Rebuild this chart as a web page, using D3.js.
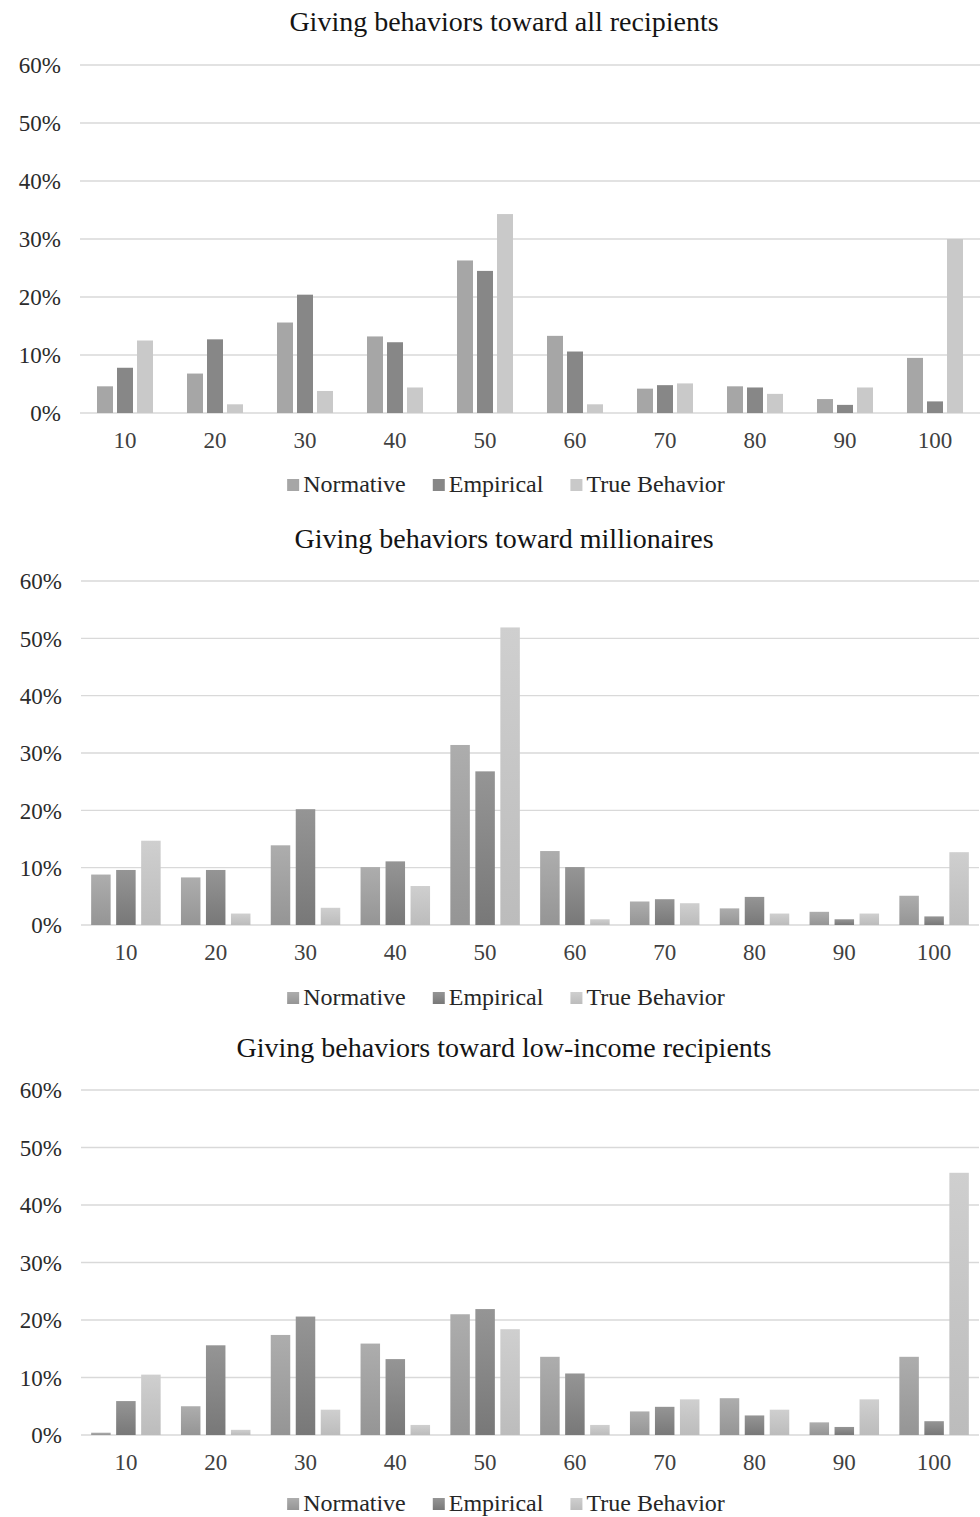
<!DOCTYPE html>
<html>
<head>
<meta charset="utf-8">
<script src="https://cdn.jsdelivr.net/npm/d3@7"></script>
<style>
  html, body { margin: 0; padding: 0; background: #fff; }
  svg { display: block; }
  text { font-family: "Liberation Serif", "Times New Roman", serif; }
</style>
</head>
<body>
<svg id="chart" width="980" height="1517"></svg>
<script>
// ---------- data ----------
const categories = ["10", "20", "30", "40", "50", "60", "70", "80", "90", "100"];
const seriesNames = ["Normative", "Empirical", "True Behavior"];
const yTicks = [0, 10, 20, 30, 40, 50, 60];

const titles = [
  "Giving behaviors toward all recipients",
  "Giving behaviors toward millionaires",
  "Giving behaviors toward low-income recipients"
];

const allNormative = [4.6, 6.8, 15.6, 13.2, 26.3, 13.3, 4.2, 4.6, 2.4, 9.5];
const allEmpirical = [7.8, 12.7, 20.4, 12.2, 24.5, 10.6, 4.8, 4.4, 1.4, 2.0];
const allTrue      = [12.5, 1.5, 3.8, 4.4, 34.3, 1.5, 5.1, 3.3, 4.4, 30.0];

const milNormative = [8.8, 8.3, 13.9, 10.1, 31.4, 12.9, 4.1, 2.9, 2.3, 5.1];
const milEmpirical = [9.6, 9.6, 20.2, 11.1, 26.8, 10.1, 4.5, 4.9, 1.0, 1.5];
const milTrue      = [14.7, 2.0, 3.0, 6.8, 51.9, 1.0, 3.8, 2.0, 2.0, 12.7];

const lowNormative = [0.4, 5.0, 17.4, 15.9, 21.0, 13.6, 4.1, 6.4, 2.2, 13.6];
const lowEmpirical = [5.9, 15.6, 20.6, 13.2, 21.9, 10.7, 4.9, 3.4, 1.4, 2.4];
const lowTrue      = [10.5, 0.9, 4.4, 1.75, 18.4, 1.75, 6.2, 4.4, 6.2, 45.6];

const panelData = [
  [allNormative, allEmpirical, allTrue],
  [milNormative, milEmpirical, milTrue],
  [lowNormative, lowEmpirical, lowTrue]
];

// ---------- layout / style ----------
const layout = [
  { titleY: 31,   y0: 413,  y60: 65,   xL: 80, xR: 980, xLabelY: 448,  legendY: 492,  groupW: 56,   pad: 0.2,  gradient: false },
  { titleY: 548,  y0: 925,  y60: 581,  xL: 81, xR: 979, xLabelY: 960,  legendY: 1005, groupW: 69.5, pad: 0.22, gradient: true },
  { titleY: 1057, y0: 1435, y60: 1090, xL: 81, xR: 979, xLabelY: 1470, legendY: 1511, groupW: 69.5, pad: 0.22, gradient: true }
];
const flatColors = ["#a6a6a6", "#878787", "#c9c9c9"];
const gradTop    = ["#adadad", "#959595", "#cfcfcf"];
const gradBottom = ["#959595", "#787878", "#bcbcbc"];

const svg = d3.select("#chart");
svg.append("rect").attr("width", 980).attr("height", 1517).attr("fill", "#fff");

const defs = svg.append("defs");
seriesNames.forEach((s, i) => {
  const g = defs.append("linearGradient")
    .attr("id", "grad" + i).attr("x1", 0).attr("y1", 0).attr("x2", 0).attr("y2", 1);
  g.append("stop").attr("offset", "0%").attr("stop-color", gradTop[i]);
  g.append("stop").attr("offset", "100%").attr("stop-color", gradBottom[i]);
});

panelData.forEach((series, p) => {
  const L = layout[p];
  const g = svg.append("g");

  const y = d3.scaleLinear().domain([0, 60]).range([L.y0, L.y60]);
  const x0 = d3.scaleBand().domain(categories).range([L.xL, L.xR]).padding(0);
  const x1 = d3.scaleBand().domain(d3.range(seriesNames.length))
    .range([-L.groupW / 2, L.groupW / 2]).paddingInner(L.pad).paddingOuter(0);

  // title
  g.append("text")
    .attr("x", 504).attr("y", L.titleY)
    .attr("text-anchor", "middle")
    .attr("font-size", 28).attr("fill", "#141414")
    .text(titles[p]);

  // gridlines
  g.append("g").selectAll("line").data(yTicks).join("line")
    .attr("x1", L.xL).attr("x2", L.xR)
    .attr("y1", d => y(d)).attr("y2", d => y(d))
    .attr("stroke", "#d9d9d9").attr("stroke-width", 1.4);

  // y axis labels
  const yAxis = d3.axisLeft(y).tickValues(yTicks).tickFormat(d => d + "%").tickSize(0).tickPadding(0);
  const ya = g.append("g").attr("transform", `translate(${L.xL - 19},0)`).call(yAxis);
  ya.select(".domain").remove();
  ya.selectAll("text")
    .attr("font-size", 23).attr("fill", "#2b2b2b").attr("dy", "0.34em");

  // x axis labels
  const xAxis = d3.axisBottom(x0).tickSize(0).tickPadding(0);
  const xa = g.append("g").attr("transform", `translate(0,${L.xLabelY})`).call(xAxis);
  xa.select(".domain").remove();
  xa.selectAll("text")
    .attr("font-size", 23).attr("fill", "#404040").attr("dy", 0).attr("y", 0);

  // bars
  const groups = g.append("g").selectAll("g").data(categories).join("g")
    .attr("transform", c => `translate(${x0(c) + x0.bandwidth() / 2},0)`);
  groups.selectAll("rect")
    .data((c, ci) => series.map((arr, si) => ({ si, v: arr[ci] })))
    .join("rect")
    .attr("x", d => x1(d.si))
    .attr("width", x1.bandwidth())
    .attr("y", d => y(d.v))
    .attr("height", d => y(0) - y(d.v))
    .attr("fill", d => L.gradient ? `url(#grad${d.si})` : flatColors[d.si]);

  // legend
  const lg = g.append("g");
  const items = lg.selectAll("g").data(seriesNames).join("g");
  items.append("rect")
    .attr("width", 12).attr("height", 12)
    .attr("y", L.legendY - 13)
    .attr("fill", (d, i) => L.gradient ? `url(#grad${i})` : flatColors[i]);
  items.append("text")
    .attr("x", 16).attr("y", L.legendY)
    .attr("font-size", 24).attr("fill", "#262626")
    .text(d => d);
  let cx = 0;
  const gap = 27;
  items.each(function () {
    const t = d3.select(this).select("text").node().getComputedTextLength();
    d3.select(this).attr("transform", `translate(${cx},0)`);
    cx += 16 + t + gap;
  });
  const total = cx - gap;
  lg.attr("transform", `translate(${506 - total / 2},0)`);
});
</script>
</body>
</html>
